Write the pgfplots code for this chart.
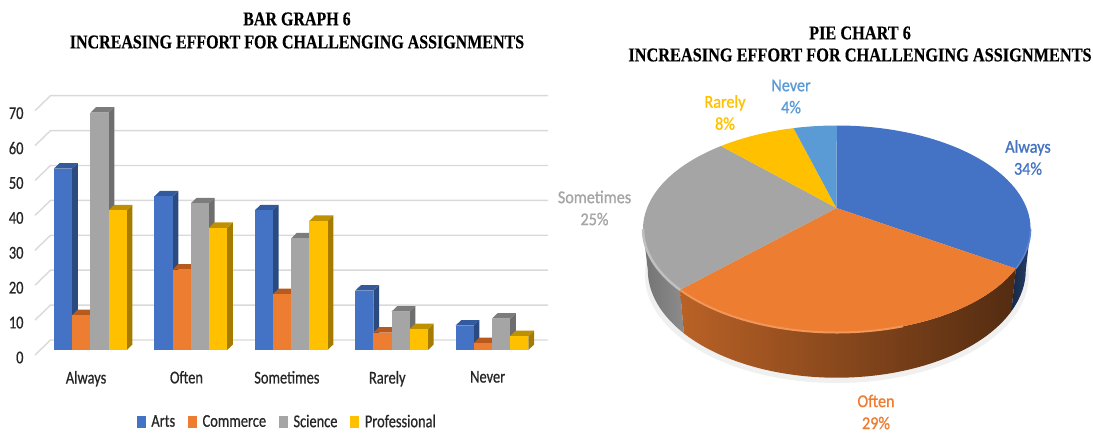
\documentclass[border=0pt]{standalone}
\usepackage{pgfplots}
\pgfplotsset{compat=1.18}
\usepackage{fontspec}
\setmainfont{Carlito}
\newfontfamily\labfont[FakeStretch=0.8,FakeBold=0.7]{Carlito}
\newfontfamily\piefont[FakeStretch=0.9,FakeBold=1]{Carlito}
\newfontfamily\titlefont[FakeStretch=0.82,FakeBold=0.4]{Liberation Serif}
\newfontfamily\pietitlefont[FakeStretch=0.836,FakeBold=0.4]{Liberation Serif}
\newcommand{\labtext}{\fontsize{18}{20}\labfont\color{black!85}}
\newcommand{\pietext}{\fontsize{18}{22}\piefont}
\newcommand{\titletext}{\fontsize{19.5}{23}\titlefont\bfseries}
\newcommand{\pietitletext}{\fontsize{19.5}{22}\pietitlefont\bfseries}

\definecolor{artsF}{HTML}{4472C4}\definecolor{artsS}{HTML}{2A4A80}\definecolor{artsT}{HTML}{345A9E}
\definecolor{commF}{HTML}{ED7D31}\definecolor{commS}{HTML}{A85A20}\definecolor{commT}{HTML}{B85A1E}
\definecolor{sciF}{HTML}{A5A5A5}\definecolor{sciS}{HTML}{6E6E6E}\definecolor{sciT}{HTML}{7C7C7C}
\definecolor{proF}{HTML}{FFC000}\definecolor{proS}{HTML}{A67C00}\definecolor{proT}{HTML}{BF9000}
\definecolor{gridc}{HTML}{D9D9D9}
\definecolor{neverC}{HTML}{5B9BD5}

% one bar: front face from the value, then its right side and top in depth
% #1 category, #2 shift in px, #3 value, #4 colour stem
\newcommand{\threedbar}[4]{%
  \pgfmathsetmacro\xl{#1+(#2-9.1)/100.4}%
  \pgfmathsetmacro\xr{#1+(#2+9.1)/100.4}%
  \pgfmathsetmacro\xld{\xl+0.0568}%
  \pgfmathsetmacro\xrd{\xr+0.0568}%
  \pgfmathsetmacro\vd{#3+1.576}%
  \addplot[fill=#4S,draw=none,forget plot] coordinates {(\xr,0) (\xrd,1.576) (\xrd,\vd) (\xr,#3)} -- cycle;
  \addplot[fill=#4T,draw=none,forget plot] coordinates {(\xl,#3) (\xld,\vd) (\xrd,\vd) (\xr,#3)} -- cycle;
  \addplot[ybar,bar width=18.2pt,bar shift=#2pt,fill=#4F,draw=none,forget plot] coordinates {(#1,#3)};
}
% one floor-and-wall grid line for a value on the scale
\newcommand{\wallgrid}[1]{%
  \pgfmathsetmacro\gf{#1-1.43}\pgfmathsetmacro\gb{#1+2.87}%
  \addplot[gridc,line width=1.4pt,forget plot] coordinates {(-0.5513,\gf) (-0.3969,\gb) (4.558,\gb)};
}
% pie geometry: top rim and bottom rim in image pixels, y measured upwards
\newcommand{\rim}[1]{(axis cs:{836.8+193.8*cos(#1)},{203+103.5*sin(#1)})}
\newcommand{\low}[1]{(axis cs:{836.8+189*cos(#1)},{162+107.7*sin(#1)})}
\newcommand{\pieslice}[3]{%
  \fill[#3] (axis cs:836.5,224) -- \rim{#1} arc[start angle=#1,end angle=#2,x radius=193.8pt,y radius=103.5pt] -- cycle;
}
\newcommand{\piewall}[3]{%
  \shade[#3] \rim{#1} arc[start angle=#1,end angle=#2,x radius=193.8pt,y radius=103.5pt]
    -- \low{#2} arc[start angle=#2,end angle=#1,x radius=189pt,y radius=107.7pt] -- cycle;
}

\begin{document}
\begin{tikzpicture}[x=1pt,y=1pt]
\useasboundingbox (0,0) rectangle (1093,432);

\begin{axis}[
  at={(35pt,77pt)},anchor=south west,
  scale only axis,width=513pt,height=259pt,
  xmin=-0.5513,xmax=4.558,ymin=-1.43,ymax=72.78,
  clip=false,
  axis line style={draw=none},
  major tick length=0pt,
  xtick={0,1,2,3,4},
  xticklabels={Always,Often,Sometimes,Rarely,Never},
  ytick={-1.43,8.57,18.57,28.57,38.57,48.57,58.57,68.57},
  yticklabels={0,10,20,30,40,50,60,70},
  /pgf/number format/assume math mode=true,
  tick label style={font=\labtext},
  xticklabel style={yshift=-12.5pt,xshift=-4.3pt},
  yticklabel style={xshift=-8pt,yshift=-2.5pt},
  title={BAR GRAPH 6\\INCREASING EFFORT FOR CHALLENGING ASSIGNMENTS},
  title style={at={(0.5107,1.2298)},anchor=center,align=center,font=\titletext},
  legend columns=-1,
  legend cell align=left,
  legend style={at={(0.492,-0.2575)},anchor=center,draw=none,fill=none,font=\labtext,
    inner sep=0pt,
    /tikz/every odd column/.append style={column sep=4pt},
    /tikz/every even column/.append style={column sep=11pt}},
]
\wallgrid{0}\wallgrid{10}\wallgrid{20}\wallgrid{30}\wallgrid{40}\wallgrid{50}\wallgrid{60}\wallgrid{70}

\threedbar{0}{-27.3}{52}{arts}\threedbar{0}{-9.1}{10}{comm}\threedbar{0}{9.1}{68}{sci}\threedbar{0}{27.3}{40}{pro}
\threedbar{1}{-27.3}{44}{arts}\threedbar{1}{-9.1}{23}{comm}\threedbar{1}{9.1}{42}{sci}\threedbar{1}{27.3}{35}{pro}
\threedbar{2}{-27.3}{40}{arts}\threedbar{2}{-9.1}{16}{comm}\threedbar{2}{9.1}{32}{sci}\threedbar{2}{27.3}{37}{pro}
\threedbar{3}{-27.3}{17}{arts}\threedbar{3}{-9.1}{5}{comm}\threedbar{3}{9.1}{11}{sci}\threedbar{3}{27.3}{6}{pro}
\threedbar{4}{-27.3}{7}{arts}\threedbar{4}{-9.1}{2}{comm}\threedbar{4}{9.1}{9}{sci}\threedbar{4}{27.3}{4}{pro}

\addlegendimage{legend image code/.code={\fill[artsF] (0pt,-5.5pt) rectangle (8pt,5.5pt);}}
\addlegendentry{Arts}
\addlegendimage{legend image code/.code={\fill[commF] (0pt,-5.5pt) rectangle (8pt,5.5pt);}}
\addlegendentry{Commerce}
\addlegendimage{legend image code/.code={\fill[sciF] (0pt,-5.5pt) rectangle (8pt,5.5pt);}}
\addlegendentry{Science}
\addlegendimage{legend image code/.code={\fill[proF] (0pt,-5.5pt) rectangle (8pt,5.5pt);}}
\addlegendentry{Professional}
\end{axis}

\begin{axis}[
  at={(560pt,0pt)},anchor=south west,
  scale only axis,width=533pt,height=432pt,
  xmin=560,xmax=1093,ymin=0,ymax=432,
  clip=false,
  hide axis,
  title={PIE CHART 6\\INCREASING EFFORT FOR CHALLENGING ASSIGNMENTS},
  title style={at={(0.5629,0.8843)},anchor=center,align=center,font=\pietitletext},
]
% soft ground shadow
\fill[black!6] (axis cs:836.8,157) ellipse[x radius=192pt,y radius=108pt];
% side wall
\piewall{180}{216}{left color=black!55,right color=black!45}
\piewall{216}{337.5}{left color=commF!78!black,middle color=commF!55!black,right color=commF!35!black}
\piewall{337.5}{360}{left color=artsF!35!black,right color=artsF!55!black}
% top face
\pieslice{90}{-22.5}{artsF}
\pieslice{-22.5}{-144}{commF}
\pieslice{216}{126.7}{sciF}
\pieslice{126.7}{102.9}{proF}
\pieslice{102.9}{90}{neverC}
% bevel along the rim
\draw[line width=2pt,commF!80!white] \rim{216} arc[start angle=216,end angle=290,x radius=193.8pt,y radius=103.5pt];
\draw[line width=2.5pt,sciF!70!white] \rim{180} arc[start angle=180,end angle=216,x radius=193.8pt,y radius=103.5pt];
\draw[line width=1.5pt,artsF!85!white] \rim{337.5} arc[start angle=337.5,end angle=360,x radius=193.8pt,y radius=103.5pt];
% slice labels
\node[font=\pietext,color=neverC,align=center] at (axis cs:791,335.5) {Never\\4\%};
\node[font=\pietext,color=proF,align=center] at (axis cs:725,319.5) {Rarely\\8\%};
\node[font=\pietext,color=artsF,align=center] at (axis cs:1028,274.5) {Always\\34\%};
\node[font=\pietext,color=sciF,align=center] at (axis cs:594.5,224) {Sometimes\\25\%};
\node[font=\pietext,color=commF,align=center] at (axis cs:876,20) {Often\\29\%};
\end{axis}
\end{tikzpicture}
\end{document}
